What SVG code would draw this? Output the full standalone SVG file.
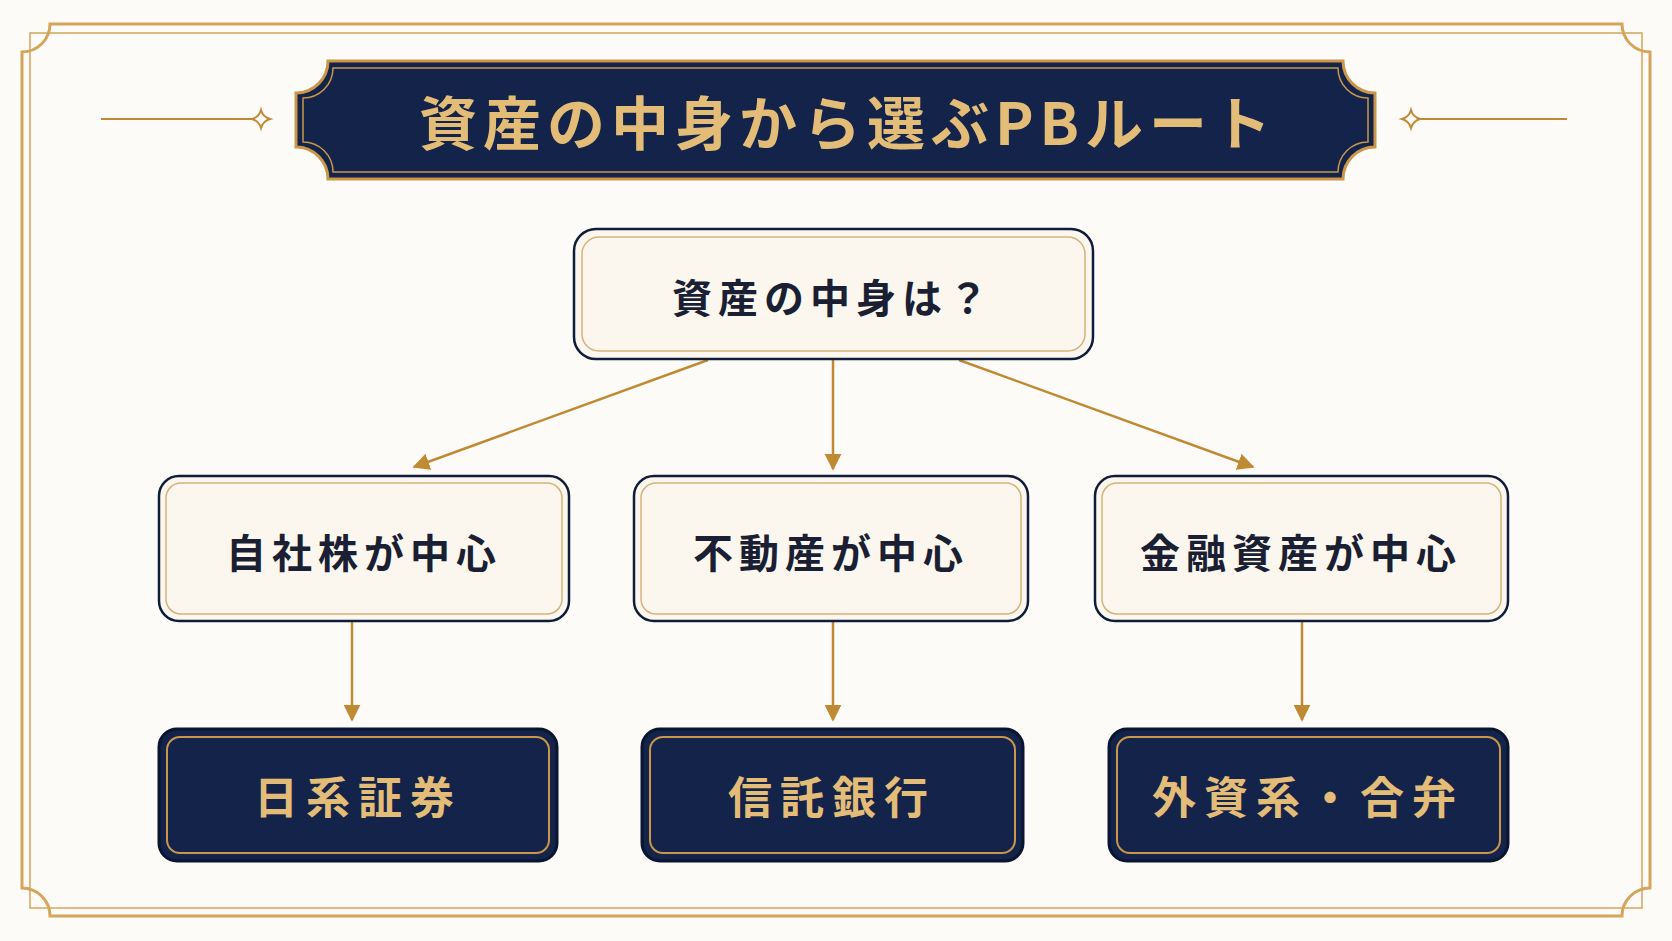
<svg xmlns="http://www.w3.org/2000/svg" width="1672" height="941" viewBox="0 0 1672 941">
<defs>
<style>
.frame{fill:none;stroke:#d4a55a}
.light{fill:#fbf7ee;stroke:#0f1d3a;stroke-width:2.5}
.lightin{fill:none;stroke:#d7b27a;stroke-width:1.5}
.dark{fill:#13234a;stroke:#0a1530;stroke-width:3}
.darkin{fill:none;stroke:#c9964a;stroke-width:2}
.conn{stroke:#c08a35;stroke-width:2.5;fill:none}
.tl{font-family:"Noto Sans CJK JP",sans-serif;font-weight:700;text-anchor:middle;dominant-baseline:central}
.tdark{fill:#1a1f33;font-size:40px;letter-spacing:6px}
.tgold{fill:#e3bd78;font-size:44px;letter-spacing:8px}
</style>
<marker id="ah2" viewBox="0 0 10 10" refX="9" refY="5" markerWidth="17" markerHeight="17" markerUnits="userSpaceOnUse" orient="auto">
<path d="M0,0 L10,5 L0,10 Z" fill="#c08a35"/>
</marker>
</defs>
<rect width="1672" height="941" fill="#fdfbf7"/>
<g id="frame">
<path class="frame" stroke-width="3" d="M50,24 H1622 A28,28 0 0 0 1650,52 V888 A28,28 0 0 0 1622,916 H50 A28,28 0 0 0 22,888 V52 A28,28 0 0 0 50,24 Z"/>
<rect class="frame" stroke-width="1.5" x="30" y="33" width="1612" height="875"/>
<line x1="101" y1="119" x2="255" y2="119" stroke="#c08a35" stroke-width="2"/>
<path d="M261,110 Q263,117 270,119 Q263,121 261,128 Q259,121 252,119 Q259,117 261,110 Z" fill="none" stroke="#c08a35" stroke-width="2"/>
<line x1="1417" y1="119" x2="1567" y2="119" stroke="#c08a35" stroke-width="2"/>
<path d="M1411,110 Q1413,117 1420,119 Q1413,121 1411,128 Q1409,121 1402,119 Q1409,117 1411,110 Z" fill="none" stroke="#c08a35" stroke-width="2"/>
</g>
<g id="title">
<path d="M328,61 H1343 A32,32 0 0 0 1375,93 V147 A32,32 0 0 0 1343,179 H328 A32,32 0 0 0 296,147 V93 A32,32 0 0 0 328,61 Z" fill="#13234a" stroke="#c9964a" stroke-width="3"/>
<path d="M333,68 H1338 A30,30 0 0 0 1368,98 V142 A30,30 0 0 0 1338,172 H333 A30,30 0 0 0 303,142 V98 A30,30 0 0 0 333,68 Z" fill="none" stroke="#c9964a" stroke-width="1.5"/>
<text class="tl" x="848" y="120" font-size="58" fill="#e3bd78" letter-spacing="6">資産の中身から選ぶPBルート</text>
</g>
<g id="connectors">
<line class="conn" x1="708" y1="360" x2="414" y2="467" marker-end="url(#ah2)"/>
<line class="conn" x1="833" y1="360" x2="833" y2="469" marker-end="url(#ah2)"/>
<line class="conn" x1="959" y1="360" x2="1253" y2="467" marker-end="url(#ah2)"/>
<line class="conn" x1="352" y1="622" x2="352" y2="720" marker-end="url(#ah2)"/>
<line class="conn" x1="833" y1="622" x2="833" y2="720" marker-end="url(#ah2)"/>
<line class="conn" x1="1302" y1="622" x2="1302" y2="720" marker-end="url(#ah2)"/>
</g>
<g id="root">
<rect class="light" x="574" y="229" width="519" height="130" rx="22"/>
<rect class="lightin" x="582" y="237" width="503" height="114" rx="17"/>
<text class="tl tdark" x="833" y="296" font-size="44">資産の中身は？</text>
</g>
<g id="n1"><rect class="light" x="159" y="476" width="410" height="145" rx="20"/><rect class="lightin" x="166" y="483" width="396" height="131" rx="15"/><text class="tl tdark" x="364" y="551">自社株が中心</text></g>
<g id="n2"><rect class="light" x="634" y="476" width="394" height="145" rx="20"/><rect class="lightin" x="641" y="483" width="380" height="131" rx="15"/><text class="tl tdark" x="831" y="551">不動産が中心</text></g>
<g id="n3"><rect class="light" x="1095" y="476" width="413" height="145" rx="20"/><rect class="lightin" x="1102" y="483" width="399" height="131" rx="15"/><text class="tl tdark" x="1301" y="551">金融資産が中心</text></g>
<g id="b1"><rect class="dark" x="159" y="729" width="398" height="132" rx="18"/><rect class="darkin" x="167" y="737" width="382" height="116" rx="13"/><text class="tl tgold" x="358" y="795">日系証券</text></g>
<g id="b2"><rect class="dark" x="642" y="729" width="381" height="132" rx="18"/><rect class="darkin" x="650" y="737" width="365" height="116" rx="13"/><text class="tl tgold" x="832" y="795">信託銀行</text></g>
<g id="b3"><rect class="dark" x="1109" y="729" width="399" height="132" rx="18"/><rect class="darkin" x="1117" y="737" width="383" height="116" rx="13"/><text class="tl tgold" x="1308" y="795">外資系・合弁</text></g>
</svg>
